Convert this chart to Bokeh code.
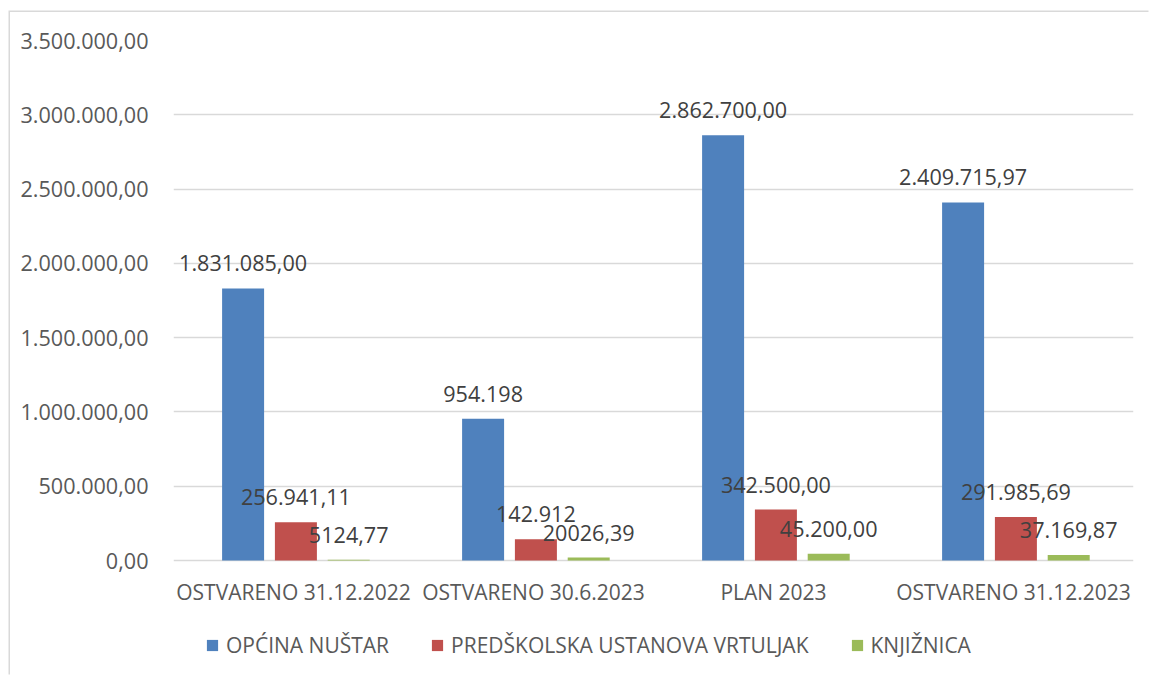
from bokeh.plotting import figure
from bokeh.models import ColumnDataSource, FixedTicker, Legend, LegendItem, Range1d
from bokeh.transform import dodge
from bokeh.core.properties import value
from bokeh.embed import file_html
from bokeh.resources import INLINE

categories = ["OSTVARENO 31.12.2022", "OSTVARENO 30.6.2023", "PLAN 2023", "OSTVARENO 31.12.2023"]
series_names = ["OPĆINA NUŠTAR", "PREDŠKOLSKA USTANOVA VRTULJAK", "KNJIŽNICA"]
opcina = [1831085.00, 954198.0, 2862700.00, 2409715.97]
vrtic = [256941.11, 142912.0, 342500.00, 291985.69]
knjiznica = [5124.77, 20026.39, 45200.00, 37169.87]
opcina_labels = ["1.831.085,00", "954.198", "2.862.700,00", "2.409.715,97"]
vrtic_labels = ["256.941,11", "142.912", "342.500,00", "291.985,69"]
knjiznica_labels = ["5124,77", "20026,39", "45.200,00", "37.169,87"]
y_ticks = [0, 500000, 1000000, 1500000, 2000000, 2500000, 3000000, 3500000]
y_tick_labels = ["0,00", "500.000,00", "1.000.000,00", "1.500.000,00", "2.000.000,00",
                 "2.500.000,00", "3.000.000,00", "3.500.000,00"]

colors = ["#4F81BD", "#C0504D", "#9BBB59"]
offsets = [-0.21, 0.01, 0.23]
FONT = "Open Sans"
FS_NUM = "21.6px"
FS_TXT = "21px"

# frame: 520 px for 0..3.5M, plus 116 px below zero for category labels and legend
y_max = y_ticks[-1]
y_min = -y_max * 116 / 520

src = ColumnDataSource(dict(cat=categories, zero=[0] * len(categories),
                            s0=opcina, s1=vrtic, s2=knjiznica,
                            l0=opcina_labels, l1=vrtic_labels, l2=knjiznica_labels))

p = figure(x_range=categories, y_range=Range1d(y_min, y_max), width=1140, height=664,
           output_backend="svg", toolbar_location=None,
           min_border_left=163, min_border_right=17, min_border_top=28, min_border_bottom=0)
p.outline_line_color = None
p.background_fill_color = "white"
p.border_fill_color = "white"
p.x_range.range_padding = 0

items = []
for i, (col, lab) in enumerate([("s0", "l0"), ("s1", "l1"), ("s2", "l2")]):
    r = p.vbar(x=dodge("cat", offsets[i], range=p.x_range), top=col, width=0.175,
               source=src, fill_color=colors[i], line_color=None)
    items.append(LegendItem(label=series_names[i], renderers=[r]))
for i, (col, lab) in enumerate([("s0", "l0"), ("s1", "l1"), ("s2", "l2")]):
    p.text(x=dodge("cat", offsets[i], range=p.x_range), y=col, text=lab, source=src,
           text_align="center", text_baseline="middle", y_offset=-25,
           text_font=value(FONT), text_font_size=FS_NUM, text_color="#404040")

# category labels
p.text(x="cat", y="zero", text="cat", source=src, text_align="center",
       text_baseline="middle", y_offset=31, text_font=value(FONT),
       text_font_size=FS_TXT, text_color="#595959")

p.yaxis.ticker = FixedTicker(ticks=y_ticks)
p.yaxis.major_label_overrides = {t: l for t, l in zip(y_ticks, y_tick_labels)}
p.yaxis.axis_line_color = None
p.yaxis.major_tick_line_color = None
p.yaxis.minor_tick_line_color = None
p.yaxis.major_label_standoff = 19
p.yaxis.major_label_text_font = FONT
p.yaxis.major_label_text_font_size = FS_NUM
p.yaxis.major_label_text_color = "#595959"

p.xaxis.visible = False
p.xgrid.grid_line_color = None
p.ygrid.grid_line_color = "#D9D9D9"
p.ygrid.grid_line_width = 1.5

legend = Legend(items=items, orientation="horizontal", location=(32, 17),
                glyph_width=14, glyph_height=14, label_standoff=7, spacing=41,
                padding=0, margin=0, border_line_color=None, background_fill_alpha=0,
                label_text_font=FONT, label_text_font_size=FS_TXT, label_text_color="#595959")
p.add_layout(legend, "center")

p.styles = {"margin-left": "10px", "margin-top": "12px",
            "box-shadow": "-1.5px -1.5px 0 0 #D9D9D9"}

open("out.html", "w").write(file_html(p, INLINE))
